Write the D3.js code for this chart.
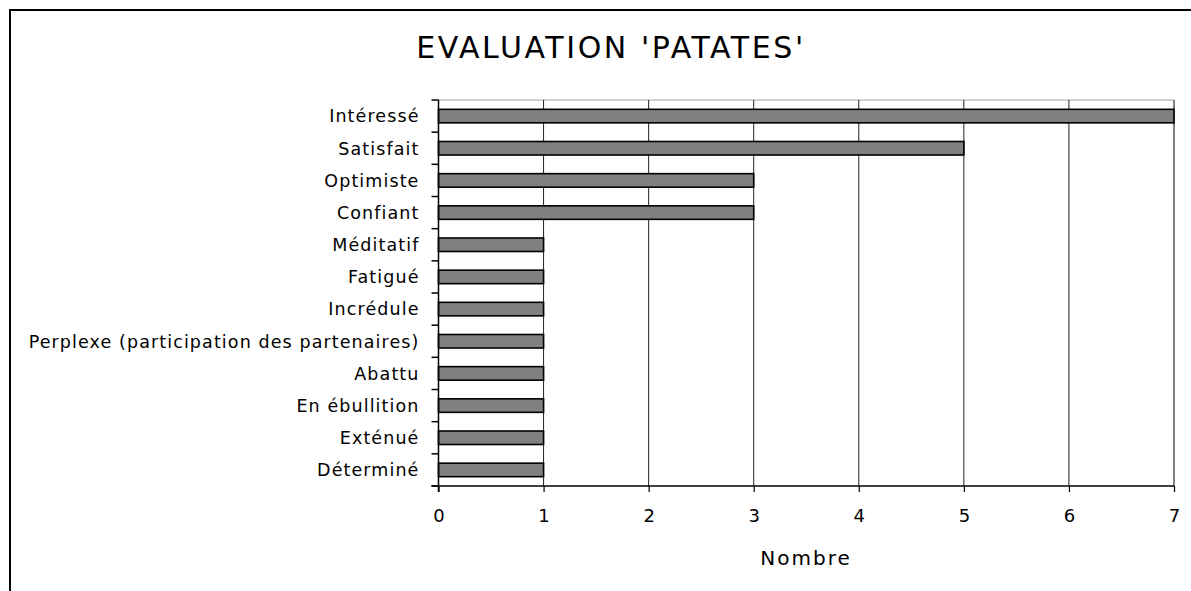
<!DOCTYPE html>
<html>
<head>
<meta charset="utf-8">
<script src="https://cdn.jsdelivr.net/npm/d3@7"></script>
<style>
  body { margin: 0; background: #fff; }
  text { font-family: "DejaVu Sans", sans-serif; fill: #000; }
</style>
</head>
<body>
<div id="chart"></div>
<script>
// Data
var categories = ["Intéressé", "Satisfait", "Optimiste", "Confiant", "Méditatif", "Fatigué",
    "Incrédule", "Perplexe (participation des partenaires)", "Abattu", "En ébullition",
    "Exténué", "Déterminé"];
var counts = [7, 5, 3, 3, 1, 1, 1, 1, 1, 1, 1, 1];
var xTicks = [0, 1, 2, 3, 4, 5, 6, 7];
var title = "EVALUATION 'PATATES'";
var xTitle = "Nombre";

var width = 1191, height = 591;
var margin = {top: 100, right: 17, bottom: 105, left: 438.5};

var svg = d3.select("#chart").append("svg")
    .attr("width", width)
    .attr("height", height);

// outer frame (runs off the right and bottom edge)
svg.append("rect")
    .attr("x", 10).attr("y", 10)
    .attr("width", 1220).attr("height", 620)
    .attr("fill", "none")
    .attr("stroke", "#000")
    .attr("stroke-width", 2);

svg.append("text")
    .attr("x", 611).attr("y", 58)
    .attr("text-anchor", "middle")
    .style("font-size", "30px")
    .style("letter-spacing", "2.6px")
    .text(title);

var x = d3.scaleLinear()
    .domain([0, 7])
    .range([margin.left, width - margin.right]);

var y = d3.scaleBand()
    .domain(categories)
    .range([margin.top, height - margin.bottom])
    .paddingInner(0.58)
    .paddingOuter(0.29);

var plotTop = margin.top, plotBottom = height - margin.bottom;

// plot area frame: light top, grey right
svg.append("line")
    .attr("x1", x(0)).attr("x2", x(7))
    .attr("y1", plotTop).attr("y2", plotTop)
    .attr("stroke", "#c0c0c0").attr("stroke-width", 1.5);

// vertical grid lines
svg.append("g").selectAll("line")
    .data(xTicks.filter(function(d) { return d > 0 && d < 7; }))
    .enter().append("line")
    .attr("x1", function(d) { return x(d); })
    .attr("x2", function(d) { return x(d); })
    .attr("y1", plotTop).attr("y2", plotBottom)
    .attr("stroke", "#222").attr("stroke-width", 1);

svg.append("line")
    .attr("x1", x(7)).attr("x2", x(7))
    .attr("y1", plotTop).attr("y2", plotBottom)
    .attr("stroke", "#808080").attr("stroke-width", 2);

// bars
svg.append("g").selectAll("rect")
    .data(categories)
    .enter().append("rect")
    .attr("x", x(0))
    .attr("y", function(d) { return y(d); })
    .attr("width", function(d, i) { return x(counts[i]) - x(0); })
    .attr("height", y.bandwidth())
    .attr("fill", "#808080")
    .attr("stroke", "#000")
    .attr("stroke-width", 1.6);

// y axis: ticks sit between categories
var yTickPos = d3.range(categories.length + 1).map(function(i) {
    return plotTop + i * (plotBottom - plotTop) / categories.length;
});
var yAxisG = svg.append("g");
yAxisG.append("line")
    .attr("x1", x(0)).attr("x2", x(0))
    .attr("y1", plotTop).attr("y2", plotBottom + 6)
    .attr("stroke", "#000").attr("stroke-width", 1.5);
yAxisG.selectAll("line.tick")
    .data(yTickPos)
    .enter().append("line")
    .attr("class", "tick")
    .attr("x1", x(0) - 7).attr("x2", x(0))
    .attr("y1", function(d) { return d; })
    .attr("y2", function(d) { return d; })
    .attr("stroke", "#000").attr("stroke-width", 1.5);
yAxisG.selectAll("text")
    .data(categories)
    .enter().append("text")
    .attr("x", x(0) - 19)
    .attr("y", function(d) { return y(d) + y.bandwidth() / 2; })
    .attr("dy", "0.36em")
    .attr("text-anchor", "end")
    .style("font-size", "17.5px")
    .style("letter-spacing", "1.1px")
    .text(function(d) { return d; });

// x axis
var xAxis = d3.axisBottom(x)
    .tickValues(xTicks)
    .tickSize(6)
    .tickFormat(d3.format("d"));
var xAxisG = svg.append("g")
    .attr("transform", "translate(0," + plotBottom + ")")
    .call(xAxis);
xAxisG.select(".domain")
    .attr("stroke", "#000").attr("stroke-width", 1.5)
    .attr("d", "M" + (x(0) - 7) + ",0H" + x(7));
xAxisG.selectAll(".tick line").attr("stroke", "#000").attr("stroke-width", 1.2);
xAxisG.selectAll(".tick text")
    .attr("y", 30)
    .attr("dy", "0.36em")
    .style("font-family", "'DejaVu Sans', sans-serif")
    .style("font-size", "18px")
    .attr("fill", "#000");

svg.append("text")
    .attr("x", 806)
    .attr("y", 565)
    .attr("text-anchor", "middle")
    .style("font-size", "20px")
    .style("letter-spacing", "2px")
    .text(xTitle);
</script>
</body>
</html>
